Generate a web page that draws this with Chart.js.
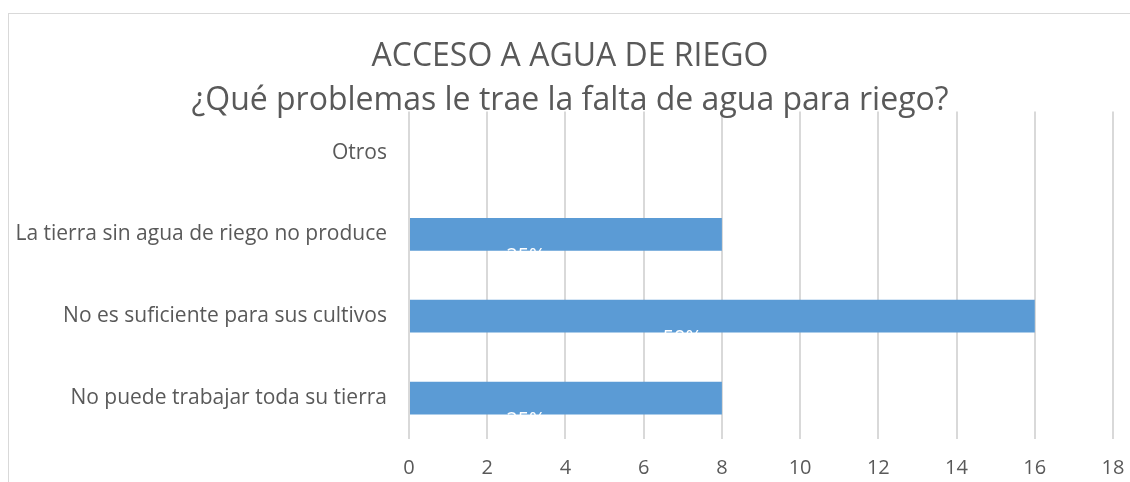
<!DOCTYPE html>
<html>
<head>
<meta charset="utf-8">
<script src="https://cdn.jsdelivr.net/npm/chart.js@4/dist/chart.umd.min.js"></script>
<style>
  body { margin: 0; background: #fff; }
  #marco { position: absolute; left: 8px; top: 13px; width: 1200px; height: 600px;
           border-left: 1px solid #d9d9d9; border-top: 1px solid #d9d9d9; }
  #caja { position: absolute; left: 0; top: 0; width: 1130px; height: 482px; }
</style>
</head>
<body>
<div id="marco"></div>
<div id="caja"><canvas id="grafico"></canvas></div>
<script>
// datos del grafico
var categorias = ['Otros', 'La tierra sin agua de riego no produce', 'No es suficiente para sus cultivos', 'No puede trabajar toda su tierra'];
var valores = [0, 8, 16, 8];
var porcentajes = ['', '25%', '50%', '25%'];
var titulo = ['ACCESO A AGUA DE RIEGO', '¿Qué problemas le trae la falta de agua para riego?'];

var gris = '#595959';
var fuente = "'Open Sans', sans-serif";

// etiquetas blancas de porcentaje (quedan medio cortadas bajo la barra)
var etiquetas = {
    id: 'etiquetas',
    afterDatasetsDraw: function(chart) {
        var ctx = chart.ctx;
        var meta = chart.getDatasetMeta(0);
        ctx.save();
        ctx.fillStyle = '#ffffff';
        ctx.font = '20px ' + fuente;
        ctx.textAlign = 'center';
        ctx.textBaseline = 'top';
        meta.data.forEach(function(bar, i) {
            if (!porcentajes[i]) return;
            var medio = (bar.base + bar.x) / 2;
            ctx.fillText(porcentajes[i], medio - 40, bar.y + bar.height / 2 - 4);
        });
        ctx.restore();
    }
};

var ctx = document.querySelector('#grafico').getContext('2d');
var grafico = new Chart(ctx, {
    type: 'bar',
    data: {
        labels: categorias,
        datasets: [{
            data: valores,
            backgroundColor: '#5b9bd5',
            borderWidth: 0,
            categoryPercentage: 0.4,
            barPercentage: 1
        }]
    },
    options: {
        indexAxis: 'y',
        responsive: true,
        maintainAspectRatio: false,
        animation: false,
        layout: { padding: { top: 34, right: 0, left: 10, bottom: 2 } },
        plugins: {
            legend: { display: false },
            tooltip: { enabled: false },
            title: {
                display: true,
                text: titulo,
                color: gris,
                font: { family: fuente, size: 32, weight: 'normal', lineHeight: 1.4 },
                padding: { top: 0, bottom: -12 }
            }
        },
        scales: {
            x: {
                min: 0,
                max: 18,
                ticks: { stepSize: 2, color: gris, font: { family: fuente, size: 20 }, padding: 17 },
                grid: { color: '#d9d9d9', lineWidth: 2, drawTicks: false },
                border: { display: false },
                afterFit: function(scale) { scale.paddingRight = 17; scale.height = 41; }
            },
            y: {
                ticks: { color: gris, font: { family: fuente, size: 21 }, padding: 22 },
                grid: { display: false, drawTicks: false },
                border: { display: false },
                afterFit: function(scale) { scale.width = 399; }
            }
        }
    },
    plugins: [etiquetas]
});
</script>
</body>
</html>
